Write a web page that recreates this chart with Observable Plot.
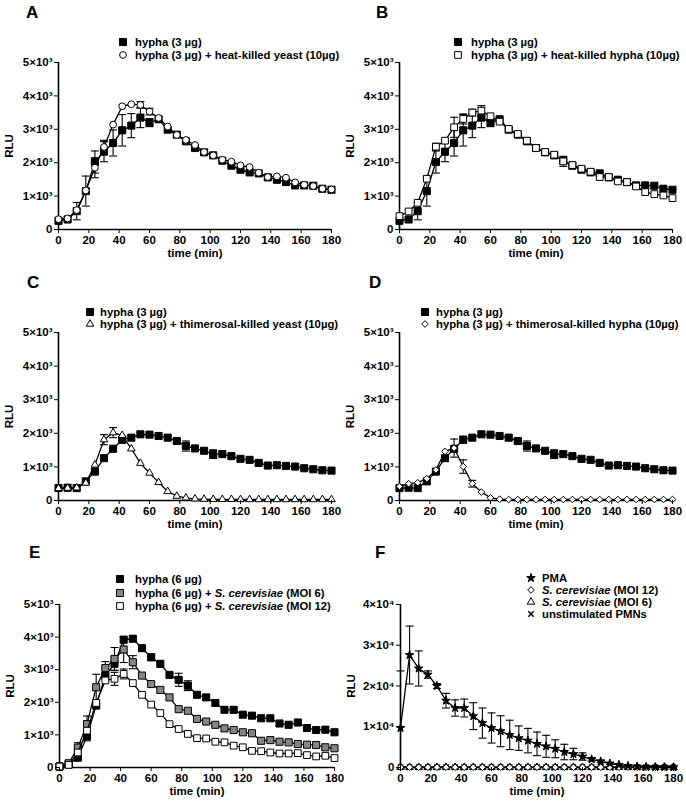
<!DOCTYPE html>
<html><head><meta charset="utf-8">
<script src="https://cdn.jsdelivr.net/npm/d3@7"></script>
<script src="https://cdn.jsdelivr.net/npm/@observablehq/plot@0.6"></script>
<style>
body{margin:0;background:#fff;}
#fig{position:relative;width:686px;height:803px;overflow:hidden;font-family:"Liberation Sans",Arial,sans-serif;color:#000;}
.panel{position:absolute;}
.letter{position:absolute;font-weight:bold;font-size:17px;line-height:17px;}
.legend{position:absolute;font-weight:bold;font-size:11.3px;white-space:nowrap;}
.legend .row{display:flex;align-items:center;}
.legend svg{flex:none;}
</style></head><body><div id="fig"></div>
<script>
// ---------- data ----------
const time = [0,6,12,18,24,30,36,42,48,54,60,66,72,78,84,90,96,102,108,114,120,126,132,138,144,150,156,162,168,174,180];
const xTicks = [0,20,40,60,80,100,120,140,160,180];
const yTicks3 = [0,1000,2000,3000,4000,5000];
const yTicks4 = [0,10000,20000,30000,40000];

// Panels A & B: hypha (3 µg)
const hyphaAB = [260,300,550,1150,2020,2330,2590,2970,3110,3350,3200,3300,2990,2840,2640,2440,2310,2220,2060,1910,1790,1710,1680,1560,1490,1420,1320,1320,1310,1220,1190];
const hyphaABErr = [0,0,260,450,330,300,390,470,360,300,120,0,0,0,0,0,0,0,0,0,0,0,0,0,0,0,0,0,0,0,0];
// Panel A: + heat-killed yeast
const heatYeast = [310,330,580,1170,1850,2470,3140,3690,3750,3730,3530,3340,3080,2830,2680,2530,2320,2220,2090,2030,1920,1870,1700,1570,1590,1550,1410,1340,1300,1220,1200];
const heatYeastErr = [0,0,0,0,300,200,0,0,0,100,100,0,0,0,0,0,0,0,0,0,0,0,0,0,0,0,0,0,0,0,0];
// Panel B: + heat-killed hypha
const heatHypha = [400,540,800,1520,2480,2660,3060,3310,3500,3560,3390,3230,3010,2860,2660,2440,2320,2240,2040,1930,1820,1730,1570,1570,1440,1420,1290,1120,1060,1020,940];
const heatHyphaErr = [0,0,0,0,100,0,300,150,100,150,0,0,0,0,0,0,0,0,150,0,0,0,0,0,0,0,0,0,0,0,0];
// Panels C & D: hypha (3 µg)
const hyphaCD = [370,380,370,570,860,1260,1540,1810,1870,1970,1960,1920,1870,1770,1620,1550,1480,1380,1380,1320,1240,1210,1120,1040,1050,1030,1010,960,930,900,890];
const hyphaCDErr = [0,0,0,0,0,0,0,100,0,0,0,0,0,0,150,0,0,130,0,0,0,0,0,0,0,0,0,0,0,0,0];
// Panel C: + thimerosal-killed yeast
const thimYeast = [360,370,380,520,1060,1810,2020,1940,1540,1110,820,540,270,130,80,50,40,35,35,35,30,30,30,30,30,30,30,30,30,30,30];
const thimYeastErr = [0,0,0,0,0,150,150,0,0,0,0,0,0,0,0,0,0,0,0,0,0,0,0,0,0,0,0,0,0,0,0];
// Panel D: + thimerosal-killed hypha
const thimHypha = [420,500,530,650,910,1460,1560,1010,500,250,80,40,30,30,30,30,30,30,30,30,30,30,30,30,30,30,30,30,30,30,30];
const thimHyphaErr = [0,0,0,0,0,0,270,200,100,0,0,0,0,0,0,0,0,0,0,0,0,0,0,0,0,0,0,0,0,0,0];
// Panel E
const hypha6 = [30,100,300,970,1900,2820,3180,3920,3950,3660,3380,3180,2840,2690,2510,2230,2150,1980,1770,1770,1620,1590,1510,1510,1350,1310,1380,1210,1150,1160,1080];
const hypha6Err = [0,0,0,150,0,0,200,0,0,0,100,0,0,200,150,0,0,0,0,0,0,0,0,0,0,0,0,0,0,0,0];
const moi6 = [30,130,610,1330,2460,3050,3330,3620,3230,2820,2560,2380,2150,1790,1740,1490,1410,1310,1200,1150,1080,1050,820,840,790,770,720,700,690,620,590];
const moi6Err = [0,0,150,250,400,200,350,400,200,0,0,0,0,0,0,0,0,0,0,0,0,0,0,0,0,0,0,0,0,0,0];
const moi12 = [30,80,460,1130,1980,2670,2720,2870,2590,2230,1930,1670,1330,1180,1030,900,890,790,770,670,620,510,500,460,430,430,440,380,340,360,290];
const moi12Err = [0,0,0,0,0,0,200,150,0,0,0,0,0,0,0,0,0,0,0,0,0,0,0,0,0,0,0,0,0,0,0];
// Panel F
const pma = [9700,27600,24300,22800,20000,16400,14600,14600,12600,10900,9700,8900,8000,7200,6600,5800,5200,4600,3800,3300,2700,2000,1500,1000,650,400,250,150,100,80,60];
const pmaErr = [14000,7100,4300,900,600,1800,2000,2200,3300,3700,3700,3800,3600,3000,3000,2900,2700,2200,1900,1400,900,400,300,200,0,0,0,0,0,0,0];
const scMoi12 = [80,70,60,60,60,60,60,60,60,60,60,60,60,60,60,60,60,60,60,60,60,60,60,60,60,60,60,60,60,60,60];
const scMoi6 = [70,60,60,60,50,50,50,50,50,50,50,50,50,50,50,50,50,50,50,50,50,50,50,50,50,50,50,50,50,50,50];
const unstim = [50,50,40,40,40,40,40,40,40,40,40,40,40,40,40,40,40,40,40,40,40,40,40,40,40,40,40,40,40,40,40];

// ---------- helpers ----------
const fig = document.getElementById("fig");
const cap = {draw(ctx){ ctx.moveTo(-4,0); ctx.lineTo(4,0); }};
const sup = {3:"³",4:"⁴"};
const fmt = (p) => d => d === 0 ? "0" : `${d/Math.pow(10,p)}×10${sup[p]}`;

const S = {
  fsq: {symbol:"square", r:4, fill:"black"},
  osq: {symbol:"square", r:3.8, fill:"white"},
  gsq: {symbol:"square", r:4, fill:"#858585"},
  ocirc: {symbol:"circle", r:3.4, fill:"white"},
  otri: {symbol:"triangle", r:2.8, fill:"white"},
  odia: {symbol:"diamond2", r:3.0, fill:"white"},
  star: {symbol:"star", r:2.7, fill:"black"},
  times: {symbol:"times", r:2.6, fill:"none"}
};
const d3sym = {square:d3.symbolSquare, circle:d3.symbolCircle, triangle:d3.symbolTriangle, diamond2:d3.symbolDiamond2, star:d3.symbolStar, times:d3.symbolTimes};

function drawPanel(cfg) {
  const {left, top, height, mL, mR, mT, mB, yMax, yTicks, p, series} = cfg;
  const marks = [
    Plot.ruleY([0], {stroke:"black", strokeWidth:1.6}),
    Plot.ruleX([0], {stroke:"black", strokeWidth:1.6})
  ];
  const order = cfg.drawOrder || series;
  for (const s of order) {
    const rows = time.map((t,i) => ({t, v:s.values[i], e:s.err ? s.err[i] : 0}));
    const eb = rows.filter(d => d.e > 0);
    marks.push(Plot.ruleX(eb, {x:"t", y1:d => Math.max(0, d.v - d.e), y2:d => d.v + d.e, stroke:"black", strokeWidth:1.1}));
    marks.push(Plot.dot(eb, {x:"t", y:d => d.v + d.e, symbol:cap, stroke:"black", strokeWidth:1.1}));
    marks.push(Plot.dot(eb.filter(d => d.v - d.e > 0), {x:"t", y:d => d.v - d.e, symbol:cap, stroke:"black", strokeWidth:1.1}));
    marks.push(Plot.line(rows, {x:"t", y:"v", stroke:"black", strokeWidth:1.3}));
    const st = S[s.sym];
    marks.push(Plot.dot(rows, {x:"t", y:"v", symbol:st.symbol, r:st.r, fill:st.fill, stroke:"black", strokeWidth: s.sym === "times" ? 1.4 : 1}));
  }
  marks.push(Plot.axisX({ticks:xTicks, tickSize:4, tickPadding:2, label:"time (min)", labelAnchor:"center", labelArrow:"none", labelOffset:27}));
  marks.push(Plot.axisY({ticks:yTicks, tickFormat:fmt(p), tickSize:4, tickPadding:2, label:"RLU", labelAnchor:"center", labelArrow:"none", labelOffset:54}));
  const chart = Plot.plot({
    width:343, height, marginLeft:mL, marginRight:mR, marginTop:mT, marginBottom:mB,
    x:{domain:[0,180]}, y:{domain:[0,yMax]},
    style:{fontFamily:"'Liberation Sans', Arial, sans-serif", fontSize:"11.5px", fontWeight:"bold", color:"black", background:"transparent", overflow:"visible"},
    marks
  });
  const div = document.createElement("div");
  div.className = "panel";
  div.style.left = left + "px"; div.style.top = top + "px";
  div.appendChild(chart);
  fig.appendChild(div);

  // letter
  const L = document.createElement("div");
  L.className = "letter"; L.textContent = cfg.letter;
  L.style.left = cfg.letterPos[0] + "px"; L.style.top = cfg.letterPos[1] + "px";
  fig.appendChild(L);

  // legend
  const lg = document.createElement("div");
  lg.className = "legend";
  const [lx, ly, rowH, gap] = cfg.legendPos;
  lg.style.left = (lx - 6) + "px"; lg.style.top = (ly - rowH/2) + "px";
  for (const s of series) {
    const row = document.createElement("div");
    row.className = "row"; row.style.height = rowH + "px";
    const st = S[s.sym];
    const svg = d3.create("svg").attr("width", 12).attr("height", 12).style("margin-right", gap + "px");
    const g = svg.append("g").attr("transform", "translate(6,6)");
    if (st.symbol === "circle") g.append("circle").attr("r", st.r).attr("fill", st.fill).attr("stroke", "black");
    else g.append("path").attr("d", d3.symbol(d3sym[st.symbol], Math.PI*st.r*st.r)()).attr("fill", st.fill).attr("stroke", "black").attr("stroke-width", s.sym === "times" ? 1.4 : 1);
    row.appendChild(svg.node());
    const span = document.createElement("span");
    span.innerHTML = s.label;
    row.appendChild(span);
    lg.appendChild(row);
  }
  fig.appendChild(lg);
}

drawPanel({letter:"A", letterPos:[26,4], left:0, top:0, height:265, mL:58, mR:12, mT:62, mB:36, yMax:5000, yTicks:yTicks3, p:3,
  legendPos:[123,42,13,6],
  series:[
    {label:"hypha (3 µg)", values:hyphaAB, err:hyphaABErr, sym:"fsq"},
    {label:"hypha (3 µg) + heat-killed yeast (10µg)", values:heatYeast, err:heatYeastErr, sym:"ocirc"}
  ]});
drawPanel({letter:"B", letterPos:[376,4], left:343, top:0, height:265, mL:56, mR:14, mT:62, mB:36, yMax:5000, yTicks:yTicks3, p:3,
  legendPos:[458,42,13,7],
  series:[
    {label:"hypha (3 µg)", values:hyphaAB, err:hyphaABErr, sym:"fsq"},
    {label:"hypha (3 µg) + heat-killed hypha (10µg)", values:heatHypha, err:heatHyphaErr, sym:"osq"}
  ]});
drawPanel({letter:"C", letterPos:[27,274], left:0, top:270, height:260, mL:58, mR:12, mT:62, mB:30, yMax:5000, yTicks:yTicks3, p:3,
  legendPos:[90,312,12,4],
  series:[
    {label:"hypha (3 µg)", values:hyphaCD, err:hyphaCDErr, sym:"fsq"},
    {label:"hypha (3 µg) + thimerosal-killed yeast (10µg)", values:thimYeast, err:thimYeastErr, sym:"otri"}
  ]});
drawPanel({letter:"D", letterPos:[369,274], left:343, top:270, height:260, mL:56, mR:14, mT:62, mB:30, yMax:5000, yTicks:yTicks3, p:3,
  legendPos:[425,312,12,5],
  series:[
    {label:"hypha (3 µg)", values:hyphaCD, err:hyphaCDErr, sym:"fsq"},
    {label:"hypha (3 µg) + thimerosal-killed hypha (10µg)", values:thimHypha, err:thimHyphaErr, sym:"odia"}
  ]});
drawPanel({letter:"E", letterPos:[29,544], left:0, top:530, height:273, mL:59, mR:9, mT:74, mB:36, yMax:5000, yTicks:yTicks3, p:3,
  legendPos:[120,579,13.5,9],
  series:[
    {label:"hypha (6 µg)", values:hypha6, err:hypha6Err, sym:"fsq"},
    {label:"hypha (6 µg) + <i>S. cerevisiae</i> (MOI 6)", values:moi6, err:moi6Err, sym:"gsq"},
    {label:"hypha (6 µg) + <i>S. cerevisiae</i> (MOI 12)", values:moi12, err:moi12Err, sym:"osq"}
  ]});
(function(){
  const sF = [
    {label:"PMA", values:pma, err:pmaErr, sym:"star"},
    {label:"<i>S. cerevisiae</i> (MOI 12)", values:scMoi12, sym:"odia"},
    {label:"<i>S. cerevisiae</i> (MOI 6)", values:scMoi6, sym:"otri"},
    {label:"unstimulated PMNs", values:unstim, sym:"times"}
  ];
  drawPanel({letter:"F", letterPos:[375,544], left:343, top:530, height:273, mL:57, mR:13, mT:74, mB:36, yMax:40000, yTicks:yTicks4, p:4,
    legendPos:[531,578,12,5], series:sF, drawOrder:[sF[3],sF[2],sF[1],sF[0]]});
})();
</script></body></html>
